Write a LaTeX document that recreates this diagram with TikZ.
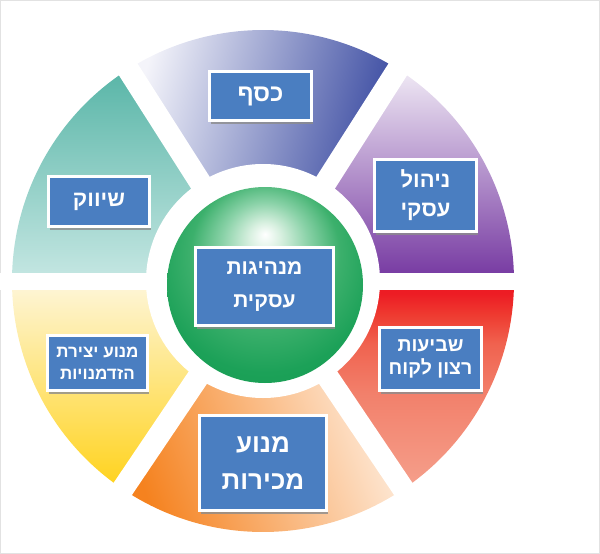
\documentclass[tikz,border=0pt]{standalone}
\usepackage{fontspec}
\usetikzlibrary{shadows}
\newfontfamily\heb[Script=Hebrew]{Liberation Sans}
\TeXXeTstate=1
\definecolor{boxblue}{HTML}{4A7EC1}
\definecolor{framegray}{HTML}{E2E2E2}
\definecolor{cashL}{HTML}{F4F4FA}
\definecolor{cashD}{HTML}{2B3D9A}
\definecolor{purL}{HTML}{F0EAF5}
\definecolor{purD}{HTML}{7436A0}
\definecolor{tealT}{HTML}{58B5A7}
\definecolor{tealB}{HTML}{C6E7E3}
\definecolor{yelT}{HTML}{FEF6DA}
\definecolor{yelB}{HTML}{FFD21A}
\definecolor{oraL}{HTML}{FFF6EE}
\definecolor{oraD}{HTML}{F5821F}
\definecolor{redR}{HTML}{ED1C24}
\definecolor{redQ}{HTML}{EE3A30}
\definecolor{redM}{HTML}{F0624F}
\definecolor{redS}{HTML}{F2806B}
\definecolor{redB}{HTML}{F5A08C}
\definecolor{gA}{HTML}{D8F0E0}
\definecolor{gB}{HTML}{8AD2A8}
\definecolor{gC}{HTML}{3CB06C}
\definecolor{gD}{HTML}{1CA158}
\definecolor{gE}{HTML}{129A4E}
\pgfdeclareverticalshading{redsh}{100bp}{color(0bp)=(redB); color(25bp)=(redB); color(48bp)=(redS); color(60bp)=(redM); color(67bp)=(redQ); color(72bp)=(redR); color(100bp)=(redR)}
\pgfdeclareradialshading{greenball}{\pgfpoint{0bp}{13bp}}{color(0bp)=(white); color(4bp)=(gA); color(11bp)=(gB); color(19bp)=(gC); color(28bp)=(gD); color(40bp)=(gE); color(50bp)=(gE)}
\tikzset{
  hbox/.style={fill=boxblue, draw=white, line width=3pt, inner sep=0pt,
    text=white, align=center,
    drop shadow={shadow xshift=1.5pt, shadow yshift=-3pt, fill=black!45, opacity=0.8}},
  band/.style={white, line width=22pt},
  hband/.style={white, line width=17pt}
}
\begin{document}
\begin{tikzpicture}[x=1pt,y=-1pt]
\useasboundingbox (0,0) rectangle (600,554);
\draw[framegray, line width=1pt] (0.5,0.5) rectangle (599.5,553.5);
\coordinate (c) at (263,281);
% segments
\shade[top color=purL, bottom color=purD] (c) -- ++(0:251) arc[start angle=0, end angle=-57.5, radius=251] -- cycle;
\shade[top color=cashL, bottom color=cashD, shading angle=75] (c) -- ++(-57.5:251) arc[start angle=-57.5, end angle=-122.5, radius=251] -- cycle;
\shade[top color=tealT, bottom color=tealB] (c) -- ++(-122.5:251) arc[start angle=-122.5, end angle=-180, radius=251] -- cycle;
\shade[top color=yelT, bottom color=yelB] (c) -- ++(-180:251) arc[start angle=-180, end angle=-236, radius=251] -- cycle;
\shade[top color=oraL, bottom color=oraD, shading angle=-70] (c) -- ++(-236:251) arc[start angle=-236, end angle=-304, radius=251] -- cycle;
\shade[shading=redsh] (c) -- ++(-304:251) arc[start angle=-304, end angle=-360, radius=251] -- cycle;
% gaps
\draw[hband] (c) -- ++(0:270);
\draw[hband] (c) -- ++(180:270);
\draw[band] (c) -- ++(-57.5:270);
\draw[band] (c) -- ++(-122.5:270);
\draw[band] (c) -- ++(-236:270);
\draw[band] (c) -- ++(-304:270);
\fill[white] (c) circle (117);
% centre ball
\shade[shading=greenball] (265,285) circle (98);
% boxes
\node[hbox, minimum width=102pt, minimum height=49pt, font=\heb\bfseries\fontsize{24}{28}\selectfont] (cash) at (260.5,96) {\beginR כסף\endR};
\node[hbox, minimum width=102pt, minimum height=72pt, font=\heb\bfseries\fontsize{22}{29}\selectfont] (nihul) at (425.5,195.5) {\beginR ניהול\endR\\\beginR עסקי\endR};
\node[hbox, minimum width=101pt, minimum height=50pt, font=\heb\bfseries\fontsize{22}{26}\selectfont] (shivuk) at (99,201.5) {\beginR שיווק\endR};
\node[hbox, minimum width=138pt, minimum height=78pt, font=\heb\bfseries\fontsize{21}{33}\selectfont] (lead) at (264.5,286.5) {\beginR מנהיגות\endR\\\beginR עסקית\endR};
\node[hbox, minimum width=100pt, minimum height=55pt, font=\heb\bfseries\fontsize{17}{22}\selectfont] (opp) at (97.5,363) {\beginR מנוע יצירת\endR\\\beginR הזדמנויות\endR};
\node[hbox, minimum width=102pt, minimum height=63pt, font=\heb\bfseries\fontsize{19.5}{23}\selectfont] (sat) at (430.5,359) {\beginR שביעות\endR\\\beginR רצון לקוח\endR};
\node[hbox, minimum width=127pt, minimum height=95pt, font=\heb\bfseries\fontsize{26}{37}\selectfont] (sales) at (263,463) {\beginR מנוע\endR\\\beginR מכירות\endR};
\end{tikzpicture}
\end{document}
